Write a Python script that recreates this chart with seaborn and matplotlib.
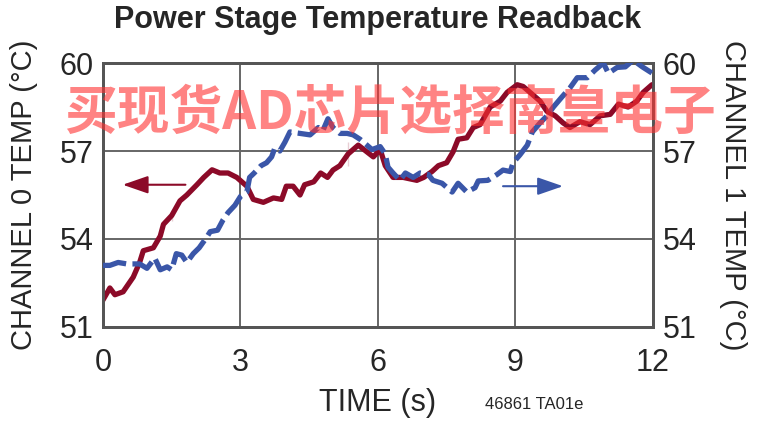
import matplotlib
matplotlib.use('Agg')
import matplotlib.pyplot as plt
import pandas as pd
import seaborn as sns
from matplotlib import font_manager

# Data (time in s, temperature in degC)
ch0_time = [0.0, 0.15, 0.26, 0.44, 0.66, 0.8, 0.88, 1.1, 1.25, 1.32, 1.5, 1.5, 1.68, 1.83,
            2.05, 2.2, 2.38, 2.55, 2.73, 2.92, 3.14, 3.28, 3.5, 3.72, 3.9, 4.0, 4.15, 4.3,
            4.4, 4.6, 4.75, 4.9, 5.02, 5.17, 5.35, 5.35, 5.57, 5.76, 5.9, 6.05, 6.16, 6.33,
            6.55, 6.85, 7.0, 7.18, 7.32, 7.5, 7.64, 7.75, 7.94, 8.08, 8.23, 8.45, 8.67, 8.82,
            9.04, 9.17, 9.32, 9.54, 9.69, 9.87, 10.04, 10.19, 10.41, 10.63, 10.85, 11.07,
            11.25, 11.46, 11.65, 11.79, 11.98]
ch0_temp = [51.92, 52.33, 52.1, 52.2, 52.7, 53.2, 53.6, 53.7, 54.1, 54.5, 54.6, 55.0, 55.3, 55.5,
            55.85, 56.1, 56.36, 56.25, 56.25, 56.1, 55.8, 55.35, 55.25, 55.4, 55.35, 55.8, 55.8, 55.5,
            55.85, 55.95, 56.25, 56.1, 56.35, 56.5, 56.5, 57.3, 57.2, 56.97, 56.8, 57.05, 56.5, 56.1,
            56.1, 56.0, 56.1, 56.3, 56.5, 56.6, 56.97, 57.4, 57.45, 57.8, 57.9, 58.5, 58.7, 59.0,
            59.26, 59.2, 59.0, 58.7, 58.35, 58.2, 57.96, 57.8, 58.0, 57.9, 58.2, 58.25,
            58.6, 58.5, 58.7, 59.0, 59.26]

ch1_time = [0.0, 0.15, 0.33, 0.52, 0.8, 0.96, 1.13, 1.25, 1.4, 1.5, 1.6, 1.72, 1.83, 1.97, 2.1,
            2.26, 2.34, 2.5, 2.62, 2.73, 2.88, 3.0, 3.14, 3.2, 3.3, 3.45, 3.57, 3.68, 3.75, 3.86,
            3.97, 4.08, 4.3, 4.52, 4.7, 4.8, 4.91, 5.02, 5.17, 5.33, 5.46, 5.61, 5.76, 5.87, 6.05,
            6.16, 6.22, 6.33, 6.48, 6.6, 6.77, 6.92, 7.1, 7.2, 7.4, 7.62, 7.75, 7.94, 8.12, 8.19,
            8.4, 8.6, 8.73, 8.89, 8.95, 9.1, 9.26, 9.37, 9.54, 9.69, 9.83, 10.02, 10.19, 10.35,
            10.57, 10.74, 10.92, 11.03, 11.22, 11.4, 11.57, 11.77, 11.98]
ch1_temp = [53.1, 53.1, 53.2, 53.15, 53.15, 53.0, 53.35, 52.95, 53.05, 52.95, 53.5, 53.45, 53.2, 53.5, 53.7,
            54.05, 54.25, 54.3, 54.65, 54.9, 55.15, 55.45, 55.6, 56.1, 56.25, 56.5, 56.6, 56.8, 57.1, 57.0,
            57.3, 57.65, 57.6, 57.55, 57.8, 57.7, 58.1, 57.8, 57.6, 57.6, 57.55, 57.4, 57.2, 57.05, 57.15,
            56.9, 56.45, 56.25, 56.0, 56.25, 56.1, 56.25, 56.2, 56.0, 55.9, 55.6, 55.9, 55.6, 55.75, 55.98,
            56.0, 56.2, 56.35, 56.3, 56.6, 56.87, 57.2, 57.65, 57.96, 58.2, 58.5, 58.85, 59.15, 59.5,
            59.5, 59.76, 60.0, 59.65, 59.85, 59.87, 60.1, 59.87, 59.66]

x_ticks = [0, 3, 6, 9, 12]
y_ticks = [51, 54, 57, 60]

red = '#8c0a28'
blue = '#3a56a8'

sns.set_theme(style='white')
installed = {f.name for f in font_manager.fontManager.ttflist}
narrow = 'Liberation Sans Narrow' if 'Liberation Sans Narrow' in installed else 'Liberation Sans'
plt.rcParams['font.family'] = [narrow, 'DejaVu Sans']

df0 = pd.DataFrame({'time': ch0_time, 'temp': ch0_temp})
df1 = pd.DataFrame({'time': ch1_time, 'temp': ch1_temp})

fig = plt.figure(figsize=(7.6, 4.23), dpi=100)
ax = fig.add_axes([0.1355, 0.227, 0.7235, 0.624])

sns.lineplot(data=df0, x='time', y='temp', ax=ax, color=red, lw=3.8, sort=False, zorder=3)
ax2 = ax.twinx()
sns.lineplot(data=df1, x='time', y='temp', ax=ax2, color=blue, lw=3.8, sort=False,
             dashes=False, zorder=3)
ax2.lines[0].set_dashes((4.5, 1.2))

for a in (ax, ax2):
    a.set_xlim(0, 12)
    a.set_ylim(51, 60)
    a.set_yticks(y_ticks)
    a.tick_params(axis='y', labelsize=22, length=0, pad=7)
ax.set_xticks(x_ticks)
ax.tick_params(axis='x', labelsize=22, length=0, pad=15)
ax.grid(True, color='#666666', lw=1.4)
for a in (ax, ax2):
    for s in a.spines.values():
        s.set_color('#555555')
        s.set_linewidth(2)

ax.set_xlabel('TIME (s)', fontsize=22, labelpad=7)
ax.set_ylabel('CHANNEL 0 TEMP (°C)', fontsize=21, labelpad=15)
ax2.set_ylabel('CHANNEL 1 TEMP (°C)', fontsize=21, rotation=-90, labelpad=36)
ax.set_title('Power Stage Temperature Readback', fontsize=22, fontweight='bold', pad=25)

# direction arrows
ax.annotate('', xy=(0.37, 55.85), xytext=(1.86, 55.85),
            arrowprops=dict(arrowstyle='-|>,head_length=1.3,head_width=0.45', color=red, lw=1.5))
ax2.annotate('', xy=(10.1, 55.8), xytext=(8.67, 55.8),
             arrowprops=dict(arrowstyle='-|>,head_length=1.3,head_width=0.45', color=blue, lw=1.5))

fig.text(0.513, 0.732, '买现货AD芯片选择南皇电子', fontsize=38, fontweight='bold',
         color='#ff3030', alpha=0.6, ha='center', va='center',
         family=['Noto Sans CJK SC', 'DejaVu Sans'], zorder=10)
fig.text(0.703, 0.025, '46861 TA01e', fontsize=12, ha='center', va='bottom')

fig.savefig('out.png', dpi=100)
